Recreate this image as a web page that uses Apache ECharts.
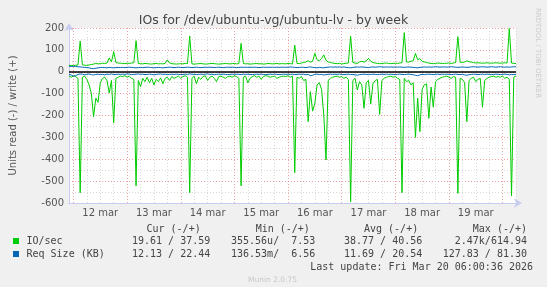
<!DOCTYPE html>
<html><head><meta charset="utf-8">
<script src="https://cdn.jsdelivr.net/npm/echarts@6/dist/echarts.min.js"></script>
<style>html,body{margin:0;padding:0;background:#f0f0f0}#c{width:547px;height:287px}</style>
</head><body><div id="c"></div>
<script>
// Hourly samples from Mar 11 22:00 to Mar 20 06:00 (201 points)
const startHourOffset = 2; // index of Mar 12 00:00
const dayLabels = ['12 mar','13 mar','14 mar','15 mar','16 mar','17 mar','18 mar','19 mar'];
const yTicks = [-600,-500,-400,-300,-200,-100,0,100,200];

const writeIO = [
 30,29,28,30,31,140,32,30,29,31,33,35,38,36,37,39,38,40,63,45,92,42,40,39,
 38,37,39,38,40,41,142,38,37,36,38,37,36,35,37,38,36,37,36,38,54,40,37,36,
 35,36,37,36,38,37,163,36,35,36,37,38,36,35,36,37,38,37,36,35,36,37,38,37,
 36,37,38,36,37,130,38,36,37,35,36,37,38,36,37,35,36,38,37,36,37,38,36,37,
 37,36,38,37,36,122,38,37,40,42,45,50,44,48,84,55,50,60,77,52,45,42,40,38,
 37,38,36,37,39,40,163,42,40,38,45,48,44,50,61,48,42,40,38,37,38,39,40,38,
 37,38,39,38,40,42,179,45,44,48,50,84,55,60,48,45,42,40,38,37,38,40,39,38,
 38,39,40,38,40,42,160,44,42,45,50,46,44,42,40,41,40,39,40,41,40,39,40,41,
 40,39,40,41,40,198,40,38,37.59
];
const readIO = [
 -20,-25,-18,-22,-30,-553,-25,-20,-35,-60,-100,-205,-121,-140,-50,-30,-25,-40,-97,-40,-233,-30,-25,-20,
 -22,-18,-25,-20,-30,-35,-521,-40,-68,-30,-45,-25,-50,-30,-60,-35,-45,-28,-55,-30,-25,-40,-22,-30,
 -25,-20,-30,-22,-18,-25,-553,-30,-20,-55,-25,-35,-22,-18,-40,-25,-20,-30,-45,-22,-20,-25,-30,-22,
 -20,-25,-18,-22,-30,-521,-25,-20,-50,-30,-22,-18,-25,-20,-35,-22,-18,-20,-25,-22,-20,-30,-25,-22,
 -20,-22,-18,-25,-20,-461,-25,-30,-22,-40,-35,-228,-91,-180,-144,-60,-50,-80,-198,-403,-40,-30,-25,-22,
 -20,-25,-22,-30,-25,-35,-594,-40,-30,-83,-45,-60,-167,-50,-40,-147,-55,-40,-35,-195,-40,-30,-25,-22,
 -20,-25,-22,-30,-35,-553,-30,-45,-40,-60,-50,-300,-120,-274,-80,-60,-55,-213,-70,-162,-45,-35,-30,-25,
 -22,-20,-25,-30,-22,-25,-556,-30,-35,-50,-228,-40,-30,-25,-45,-35,-30,-162,-40,-30,-25,-22,-20,-25,
 -22,-25,-20,-30,-25,-35,-567,-25,-19.61
];
const writeReq = [
 25,24,25,24,23,22,21,20,19,18,15,14,16,18,19,20,19,18,20,19,18,19,20,19,
 20,19,20,21,20,19,18,19,20,19,20,21,20,19,18,19,20,19,18,19,20,21,20,19,
 20,21,20,19,20,21,20,19,20,21,20,19,20,21,20,21,20,19,20,21,20,19,20,21,
 20,21,20,19,20,21,20,21,20,21,20,21,20,19,20,21,20,21,20,21,20,21,20,21,
 21,20,21,22,21,20,19,20,21,20,19,21,22,20,19,18,20,19,18,20,21,22,21,22,
 21,22,21,22,20,19,18,20,21,22,21,22,21,20,19,21,22,21,22,23,22,21,22,21,
 22,21,22,21,22,21,20,21,22,21,20,19,18,20,21,22,21,22,21,22,23,22,21,22,
 22,21,22,23,22,21,20,21,22,21,20,21,22,23,22,21,22,23,22,21,22,23,22,21,
 22,23,22,21,22,21,22,23,22.44
];
const readReq = [
 -12,-15,-20,-18,-12,-10,-11,-14,-12,-10,-13,-15,-12,-11,-13,-12,-14,-11,-12,-10,-13,-12,-11,-12,
 -11,-12,-10,-11,-13,-12,-11,-10,-12,-11,-13,-12,-11,-12,-14,-12,-11,-10,-12,-11,-13,-12,-11,-12,
 -11,-12,-13,-12,-11,-12,-10,-11,-12,-13,-12,-11,-12,-11,-10,-12,-11,-13,-12,-11,-12,-11,-12,-13,
 -12,-11,-12,-11,-12,-13,-11,-12,-11,-12,-13,-12,-11,-12,-11,-12,-13,-12,-11,-12,-11,-12,-13,-12,
 -11,-12,-11,-12,-11,-13,-12,-11,-12,-11,-14,-12,-18,-16,-12,-11,-13,-12,-15,-13,-12,-11,-12,-11,
 -12,-11,-12,-13,-12,-11,-13,-12,-14,-16,-13,-12,-11,-12,-13,-12,-11,-12,-13,-12,-11,-12,-11,-12,
 -11,-12,-13,-12,-11,-12,-13,-12,-11,-12,-14,-16,-18,-14,-12,-13,-12,-11,-12,-13,-12,-11,-12,-11,
 -12,-11,-12,-13,-12,-11,-12,-13,-12,-14,-16,-13,-12,-11,-12,-13,-12,-11,-12,-11,-12,-13,-12,-11,
 -12,-13,-12,-11,-12,-14,-12,-13,-12.13
];

const statHeaders = ['Cur (-/+)','Min (-/+)','Avg (-/+)','Max (-/+)'];
const ioStats = ['19.61 / 37.59','355.56u/  7.53','38.77 / 40.56','2.47k/614.94'];
const reqStats = ['12.13 / 22.44','136.53m/  6.56','11.69 / 20.54','127.83 / 81.30'];
const seriesNames = ['IO/sec','Req Size (KB)'];
const lastUpdate = 'Last update: Fri Mar 20 06:00:36 2026';

const categories = writeIO.map((_, i) => String(i));
const GREEN = '#00cc00', BLUE = '#0066b3';
const AXIS = '#c8ccf0';
const FONT = 'DejaVu Sans', MONO = 'DejaVu Sans Mono';

const chart = echarts.init(document.getElementById('c'), null, {renderer: 'canvas'});

const hourOf = idx => idx - startHourOffset;
const lineSeries = (name, data, color) => ({
  name, type: 'line', data, xAxisIndex: 0, symbol: 'none', showSymbol: false,
  lineStyle: {color, width: 1}, itemStyle: {color}, silent: true
});

const mono = (text, x, y, align) => ({
  type: 'text', x, y,
  style: {text, fill: '#444', font: '10px "' + MONO + '"', textAlign: align || 'left', textVerticalAlign: 'middle'}
});

const colX = [146.5, 255.7, 364, 472.8];
const valX = [132, 231, 344, 0];
const graphics = [];
statHeaders.forEach((t, i) => graphics.push(mono(t, colX[i], 229)));
graphics.push({type: 'rect', shape: {x: 13, y: 238, width: 6, height: 6}, style: {fill: GREEN}});
graphics.push({type: 'rect', shape: {x: 13, y: 251, width: 6, height: 6}, style: {fill: BLUE}});
graphics.push(mono(seriesNames[0], 26.5, 241.5));
graphics.push(mono(seriesNames[1], 26.5, 254.5));
ioStats.forEach((t, i) => graphics.push(i < 3 ? mono(t, valX[i], 241.5) : mono(t, 527, 241.5, 'right')));
reqStats.forEach((t, i) => graphics.push(i < 3 ? mono(t, valX[i], 254.5) : mono(t, 527, 254.5, 'right')));
graphics.push(mono(lastUpdate, 533, 267.5, 'right'));
graphics.push({type: 'text', x: 272.5, y: 280.5, style: {text: 'Munin 2.0.75', fill: '#c8c8c8', font: '7.5px "' + FONT + '"', textAlign: 'center', textVerticalAlign: 'middle'}});
graphics.push({type: 'text', x: 538, y: 53, rotation: -Math.PI / 2, style: {text: 'RRDTOOL / TOBI OETIKER', fill: '#cccccc', font: '7px "' + FONT + '"', textAlign: 'center', textVerticalAlign: 'middle'}});

const option = {
  backgroundColor: '#f0f0f0',
  animation: false,
  title: {
    text: 'IOs for /dev/ubuntu-vg/ubuntu-lv - by week', left: 'center', top: 9,
    textStyle: {fontFamily: FONT, fontSize: 12.5, fontWeight: 'normal', color: '#444'}
  },
  grid: {left: 66, right: 31, top: 28, bottom: 84, show: true, backgroundColor: '#ffffff', borderWidth: 0},
  xAxis: [{
    type: 'category', data: categories, boundaryGap: false, gridIndex: 0,
    axisLine: {show: true, onZero: false, lineStyle: {color: AXIS, width: 1}, symbol: ['none', 'arrow'], symbolSize: [7, 8], symbolOffset: [0, 6]},
    axisTick: {show: false},
    axisLabel: {
      interval: (idx) => { const h = hourOf(idx); return h >= 0 && h % 24 === 12; },
      formatter: (v) => { const h = hourOf(Number(v)); return dayLabels[Math.floor(h / 24)] || ''; },
      fontFamily: FONT, fontSize: 10, color: '#555', margin: 5
    },
    splitLine: {show: true, interval: (idx) => { const h = hourOf(idx); return h % 6 === 0 && h % 24 !== 0; },
      lineStyle: {color: '#d8d8d8', type: [1, 2], width: 1}}
  }, {
    type: 'category', data: categories, boundaryGap: false, gridIndex: 0, position: 'bottom',
    axisLine: {show: false, onZero: false}, axisTick: {show: false}, axisLabel: {show: false},
    splitLine: {show: true, interval: (idx) => { const h = hourOf(idx); return h % 24 === 0; },
      lineStyle: {color: '#f0a0a0', type: [1, 2], width: 1}}
  }],
  yAxis: {
    type: 'value', min: yTicks[0], max: yTicks[yTicks.length - 1], interval: 50,
    name: 'Units read (-) / write (+)', nameLocation: 'middle', nameGap: 51,
    nameTextStyle: {fontFamily: FONT, fontSize: 10, color: '#555'},
    axisLine: {show: true, lineStyle: {color: AXIS, width: 1}, symbol: ['none', 'arrow'], symbolSize: [7, 8], symbolOffset: [0, 5]},
    axisTick: {show: false},
    axisLabel: {formatter: (v) => (yTicks.indexOf(v) >= 0 ? String(v) : ''), fontFamily: FONT, fontSize: 10, color: '#555', margin: 5},
    splitLine: {show: true, lineStyle: {color: ['#f0a0a0', '#d8d8d8'], type: [1, 2], width: 1}}
  },
  series: [
    Object.assign(lineSeries('IO/sec read', readIO, GREEN), {
      markLine: {silent: true, symbol: ['none', 'none'], label: {show: false},
        lineStyle: {color: '#000', width: 1.5, type: 'solid'}, data: [{yAxis: 0}]}
    }),
    lineSeries('IO/sec write', writeIO, GREEN),
    lineSeries('Req Size read', readReq, BLUE),
    lineSeries('Req Size write', writeReq, BLUE)
  ],
  graphic: graphics
};
chart.setOption(option);
</script>
</body></html>
